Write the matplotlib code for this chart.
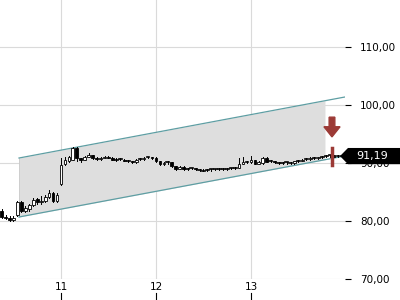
import matplotlib
matplotlib.use('Agg')
from matplotlib import pyplot as plt
from matplotlib.patches import Rectangle, Polygon, FancyArrow
import matplotlib.transforms as mtransforms
import numpy as np

# hourly candles, first one at day 10, 09:00
start_day = 10 + 9 / 24.0
opens = [81.8, 80.7, 80.5, 80.2, 81.0, 83.2, 81.8, 82.0, 82.8, 83.8,
         83.3, 83.5, 84.2, 84.8, 83.4, 86.3, 89.8, 90.3, 90.6, 92.6,
         90.8, 90.6, 91.1, 91.3, 90.9, 90.7, 90.9, 91.1, 90.9, 90.6,
         90.6, 90.6, 90.4, 90.3, 90.1, 90.6, 90.7, 90.9, 91.0, 90.8,
         90.3, 89.8, 90.0, 90.1, 89.4, 89.0, 89.3, 88.9, 89.0, 89.1,
         88.9, 88.8, 88.7, 88.8, 88.9, 88.9, 89.0, 88.9, 89.0, 89.1,
         89.2, 89.9, 90.2, 90.1, 90.5, 89.9, 90.0, 90.9, 90.2, 90.3,
         90.1, 90.0, 90.0, 90.1, 90.0, 90.3, 90.4, 90.6, 90.7, 90.9,
         90.8, 91.0, 91.1, 91.2, 91.3, 91.1, 91.2]
closes = [80.7, 80.5, 80.2, 80.6, 83.2, 81.8, 82.3, 82.8, 83.7, 83.2,
          83.5, 84.2, 84.9, 83.4, 84.5, 89.6, 90.6, 91.0, 92.6, 90.8,
          90.6, 91.1, 91.3, 90.9, 90.7, 90.9, 91.1, 90.9, 90.6, 90.6,
          90.7, 90.4, 90.3, 90.1, 90.6, 90.7, 90.9, 91.0, 90.8, 90.3,
          89.8, 90.0, 90.1, 89.4, 89.0, 89.3, 88.9, 89.0, 89.1, 88.9,
          88.8, 88.7, 88.8, 88.9, 88.9, 89.0, 88.9, 89.0, 89.1, 89.2,
          89.9, 90.2, 90.1, 90.5, 89.9, 90.1, 90.9, 90.2, 90.3, 90.1,
          90.0, 90.0, 90.1, 90.0, 90.3, 90.4, 90.6, 90.7, 90.9, 90.8,
          91.0, 91.1, 91.2, 91.3, 91.1, 91.2, 91.19]
highs = [82.0, 81.0, 80.8, 80.8, 83.4, 83.4, 82.5, 83.0, 84.0, 84.0,
         84.3, 84.4, 85.4, 85.0, 84.8, 90.8, 91.0, 91.2, 92.8, 92.7,
         90.9, 91.2, 91.8, 91.4, 91.0, 91.0, 91.2, 91.2, 91.0, 90.8,
         90.8, 90.7, 90.5, 90.4, 90.7, 90.8, 91.0, 91.1, 91.1, 91.0,
         90.4, 90.1, 90.3, 90.2, 89.5, 89.4, 89.4, 89.1, 89.2, 89.2,
         89.0, 88.9, 88.9, 89.0, 89.0, 89.1, 89.1, 89.1, 89.2, 89.3,
         90.8, 91.0, 90.3, 91.2, 90.6, 90.3, 91.1, 91.0, 90.5, 90.4,
         90.2, 90.1, 90.2, 90.2, 90.4, 90.5, 90.7, 90.8, 91.0, 91.0,
         91.1, 91.2, 91.3, 91.4, 91.4, 91.3, 91.3]
lows = [80.5, 80.3, 80.0, 80.0, 80.8, 81.5, 81.6, 81.8, 82.6, 83.0,
        83.0, 83.3, 84.0, 83.2, 83.2, 86.2, 89.6, 90.2, 90.5, 90.3,
        90.2, 90.5, 91.0, 90.7, 90.6, 90.5, 90.8, 90.8, 90.5, 90.4,
        90.5, 90.3, 90.2, 90.0, 90.0, 90.5, 90.6, 90.8, 90.7, 90.2,
        89.7, 89.7, 89.9, 89.3, 88.8, 88.9, 88.8, 88.8, 88.9, 88.8,
        88.7, 88.6, 88.6, 88.7, 88.8, 88.8, 88.8, 88.8, 88.9, 89.0,
        89.1, 89.8, 90.0, 90.0, 89.8, 89.8, 89.9, 90.1, 90.1, 90.0,
        89.9, 89.9, 89.9, 89.9, 89.9, 90.2, 90.3, 90.5, 90.6, 90.7,
        90.7, 90.9, 91.0, 91.1, 91.0, 91.0, 91.1]

# trend channel (day, price)
chan_x = [10.558, 13.99]
chan_upper = [90.86, 101.38]
chan_lower = [80.69, 91.21]
fill_end = 13.779

last_price = 91.19
signal_day = 13.853
signal_bar = [89.66, 92.6]
arrow_top, arrow_bottom = 97.9, 94.5

yticks = [70, 80, 90, 100, 110]
xticks = [11, 12, 13]

fig = plt.figure(figsize=(4, 3), dpi=100)
ax = fig.add_axes([0, 0.07, 0.8625, 0.93])
ax.set_xlim(10.358, 13.99)
ax.set_ylim(70, 118.1)

for s in ax.spines.values():
    s.set_visible(False)

for v in yticks:
    ax.axhline(v, color='#dadada', lw=0.8, zorder=0)
for d in xticks:
    ax.axvline(d, color='#dadada', lw=0.8, zorder=0)

# channel
xs = np.array(chan_x)
up = np.array(chan_upper)
lo = np.array(chan_lower)
xf = np.array([chan_x[0], fill_end])
upf = np.interp(xf, xs, up)
lof = np.interp(xf, xs, lo)
ax.fill_between(xf, lof, upf, color='#dedede', zorder=1, lw=0)
ax.plot([chan_x[0], chan_x[0]], [chan_lower[0], chan_upper[0]], color='#c8c8c8', lw=0.6, zorder=1)
ax.plot(xs, up, color='#5e9ea3', lw=0.9, zorder=2)
ax.plot(xs, lo, color='#5e9ea3', lw=0.9, zorder=2)

# candles
step = 1 / 24.0
w = step * 0.7
for i in range(len(opens)):
    x = start_day + i * step
    o, c, h, l = opens[i], closes[i], highs[i], lows[i]
    ax.plot([x, x], [l, h], color='black', lw=0.7, zorder=3)
    body = abs(c - o)
    if body < 0.15:
        ax.plot([x - w / 2, x + w / 2], [c, c], color='black', lw=1.2, zorder=4)
    else:
        fc = 'white' if c > o else 'black'
        ax.add_patch(Rectangle((x - w / 2, min(o, c)), w, body, facecolor=fc,
                               edgecolor='black', lw=0.6, zorder=4))

# signal marker
red = '#9c3a36'
ax.plot([signal_day, signal_day], signal_bar, color=red, lw=2.5, zorder=5)
ax.add_patch(FancyArrow(signal_day, arrow_top, 0, -(arrow_top - arrow_bottom),
                        width=0.06, head_width=0.17, head_length=1.75,
                        length_includes_head=True, color=red, zorder=5))

# axes ticks
ax.yaxis.tick_right()
ax.set_yticks(yticks)
ax.set_yticklabels([('%.2f' % v).replace('.', ',') for v in yticks])
ax.tick_params(axis='y', direction='out', length=4, width=0.8, pad=7,
               labelsize=7.5, colors='black')
ax.set_xticks(xticks)
ax.set_xticklabels([str(d) for d in xticks])
ax.tick_params(axis='x', length=0, pad=2, labelsize=7.5)
trans = mtransforms.blended_transform_factory(ax.transData, ax.transAxes)
for d in xticks:
    ax.plot([d, d], [-0.05, -0.075], color='black', lw=0.8, transform=trans, clip_on=False)

# last price label
ytr = mtransforms.blended_transform_factory(fig.transFigure, ax.transData)
px0 = 340 / 400.0
px1 = 348 / 400.0
h = 1.4
tag = Polygon([[px0, last_price], [px1, last_price + h], [1.0, last_price + h],
               [1.0, last_price - h], [px1, last_price - h]], closed=True,
              facecolor='black', edgecolor='none', transform=ytr, clip_on=False, zorder=10)
ax.add_patch(tag)
ax.text(372 / 400.0, last_price, ('%.2f' % last_price).replace('.', ','), transform=ytr,
        color='white', fontsize=8, ha='center', va='center', zorder=11, clip_on=False)

fig.savefig('out.png', dpi=100)
